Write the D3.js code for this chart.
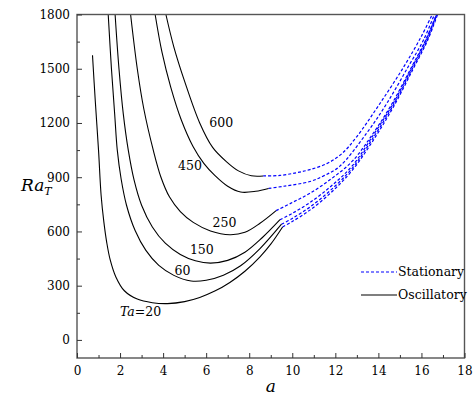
<!DOCTYPE html>
<html><head><meta charset="utf-8">
<script src="https://cdn.jsdelivr.net/npm/d3@7/dist/d3.min.js"></script>
<style>body{margin:0;background:#fff}svg{display:block}</style>
</head><body><svg id="c" width="473" height="396"></svg>
<script>
// Oscillatory curves (solid), [a, Ra_T]
const osc20  = [[0.72,1575],[0.85,1320],[1.0,1050],[1.12,800],[1.25,650],[1.38,540],[1.54,444],[1.8,350],[2.2,272],[2.8,226],[3.5,206],[4.2,201],[5.0,212],[5.7,235],[6.4,270],[7.1,318],[7.8,380],[8.5,460],[9.0,530],[9.55,625]];
const osc60  = [[1.45,1800],[1.6,1500],[1.75,1250],[1.87,1051],[2.05,890],[2.3,745],[2.7,605],[3.2,495],[3.8,412],[4.5,357],[5.3,326],[6.0,330],[6.8,358],[7.6,410],[8.5,505],[9.5,640]];
const osc150 = [[1.77,1800],[1.95,1500],[2.15,1250],[2.38,1051],[2.65,885],[3.0,745],[3.5,625],[4.1,535],[4.8,473],[5.5,438],[6.2,425],[7.0,440],[7.8,485],[8.6,565],[9.43,665]];
const osc250 = [[2.49,1800],[2.8,1500],[3.1,1280],[3.54,1051],[3.9,900],[4.3,790],[4.8,710],[5.4,650],[6.2,603],[7.1,582],[7.8,595],[8.5,645],[9.25,715]];
const osc450 = [[3.63,1800],[3.95,1590],[4.35,1400],[4.85,1215],[5.39,1070],[5.9,975],[6.4,910],[7.0,850],[7.6,818],[8.3,822],[8.9,838]];
const osc600 = [[4.13,1800],[4.5,1620],[5.0,1430],[5.7,1200],[6.3,1065],[6.95,985],[7.5,935],[8.1,908],[8.65,907]];
// Stationary curves (dashed)
const st600 = [[8.65,907],[9.43,910],[10.2,925],[10.82,942],[11.6,975],[12.3,1030],[13.0,1125],[14.0,1295],[15.15,1505],[16.0,1680],[16.5,1800]];
const st450 = [[8.9,838],[9.6,850],[10.82,876],[11.5,910],[12.2,960],[13.45,1143],[14.4,1310],[15.39,1512],[16.1,1660],[16.6,1800]];
const st250 = [[9.25,715],[10.0,760],[10.82,811],[11.8,890],[12.8,990],[13.76,1143],[14.6,1300],[15.5,1500],[16.2,1660],[16.7,1800]];
const st150 = [[9.43,665],[10.0,700],[10.82,760],[11.8,850],[12.8,965],[13.8,1140],[14.65,1300],[15.55,1505],[16.2,1655],[16.7,1800]];
const st60  = [[9.5,640],[10.0,672],[10.82,735],[11.8,830],[12.8,952],[13.85,1135],[14.7,1300],[15.6,1505],[16.25,1655],[16.72,1800]];
const st20  = [[9.55,625],[10.0,655],[10.82,718],[11.8,815],[12.8,940],[13.9,1130],[14.75,1300],[15.62,1500],[16.28,1655],[16.75,1800]];

const oscSeries = [osc20, osc60, osc150, osc250, osc450, osc600];
const stSeries = [st20, st60, st150, st250, st450, st600];
const curveLabels = [["Ta=20",2.95,157],["60",4.9,378],["150",5.8,495],["250",6.85,642],["450",5.25,960],["600",6.7,1195]];
const xTicks = [0,2,4,6,8,10,12,14,16,18];
const yTicks = [0,300,600,900,1200,1500,1800];
const legendItems = ["Stationary","Oscillatory"];

const FONT = '"DejaVu Serif","Liberation Serif",serif';
const svg = d3.select("#c");
const L=77, R=464.5, T=14.5, B=358;
const x = d3.scaleLinear().domain([0,18]).range([L,R]);
const y = d3.scaleLinear().domain([-100,1800]).range([B,T]);

svg.append("defs").append("clipPath").attr("id","clip").append("rect")
  .attr("x",L).attr("y",T).attr("width",R-L).attr("height",B-T);

const line = d3.line().x(d=>x(d[0])).y(d=>y(d[1])).curve(d3.curveCatmullRom.alpha(0.5));
const g = svg.append("g").attr("clip-path","url(#clip)");
stSeries.forEach(s=>g.append("path").attr("d",line(s)).attr("fill","none")
  .attr("stroke","#0000ff").attr("stroke-width",1.2).attr("stroke-dasharray","3,2"));
oscSeries.forEach(s=>g.append("path").attr("d",line(s)).attr("fill","none")
  .attr("stroke","#000").attr("stroke-width",1.1));

// frame
svg.append("rect").attr("x",L).attr("y",T).attr("width",R-L).attr("height",B-T)
  .attr("fill","none").attr("stroke","#555").attr("stroke-width",1.4);

// axes (ticks inward)
const xAx = svg.append("g").attr("transform",`translate(0,${B})`)
  .call(d3.axisBottom(x).tickValues(xTicks).tickSize(-5).tickPadding(8).tickFormat(d3.format("d")));
const xMin = svg.append("g").attr("transform",`translate(0,${B})`)
  .call(d3.axisBottom(x).tickValues(d3.range(1,18,2)).tickSize(-3).tickFormat(""));
const yAx = svg.append("g").attr("transform",`translate(${L},0)`)
  .call(d3.axisLeft(y).tickValues(yTicks).tickSize(-5).tickPadding(7).tickFormat(d3.format("d")));
const yMin = svg.append("g").attr("transform",`translate(${L},0)`)
  .call(d3.axisLeft(y).tickValues(d3.range(150,1800,300)).tickSize(-3).tickFormat(""));
[xAx,xMin,yAx,yMin].forEach(a=>{a.select(".domain").remove();
  a.attr("font-family",FONT).attr("font-size",12);
  a.selectAll("line").attr("stroke","#333");
  a.selectAll("text").attr("fill","#000");});

// axis titles
svg.append("text").attr("x",x(9)).attr("y",392).attr("text-anchor","middle").attr("font-family",FONT)
  .attr("font-size",17).attr("font-style","italic").text("a");
const yt = svg.append("text").attr("x",21).attr("y",191).attr("font-size",17).attr("font-style","italic").attr("font-family",FONT);
yt.append("tspan").text("Ra");
yt.append("tspan").attr("font-size",11).attr("dy",4).text("T");

// curve labels
curveLabels.forEach(([t,a,r])=>{
  const tx = svg.append("text").attr("x",x(a)).attr("y",y(r)).attr("text-anchor","middle").attr("font-family",FONT)
    .attr("dominant-baseline","middle").attr("font-size",12.5);
  if(t.startsWith("Ta")){ tx.append("tspan").attr("font-style","italic").text("Ta"); tx.append("tspan").text(t.slice(2)); }
  else tx.text(t);
});

// legend
const lg = svg.append("g");
legendItems.forEach((t,i)=>{
  const yy = 272 + i*23;
  lg.append("line").attr("x1",361).attr("x2",397).attr("y1",yy).attr("y2",yy)
    .attr("stroke", i===0?"#0000ff":"#000").attr("stroke-width",1.2)
    .attr("stroke-dasharray", i===0?"3,2":null);
  lg.append("text").attr("x",398).attr("y",yy).attr("dominant-baseline","middle").attr("font-family",FONT)
    .attr("font-size",12.5).text(t);
});
</script></body></html>
